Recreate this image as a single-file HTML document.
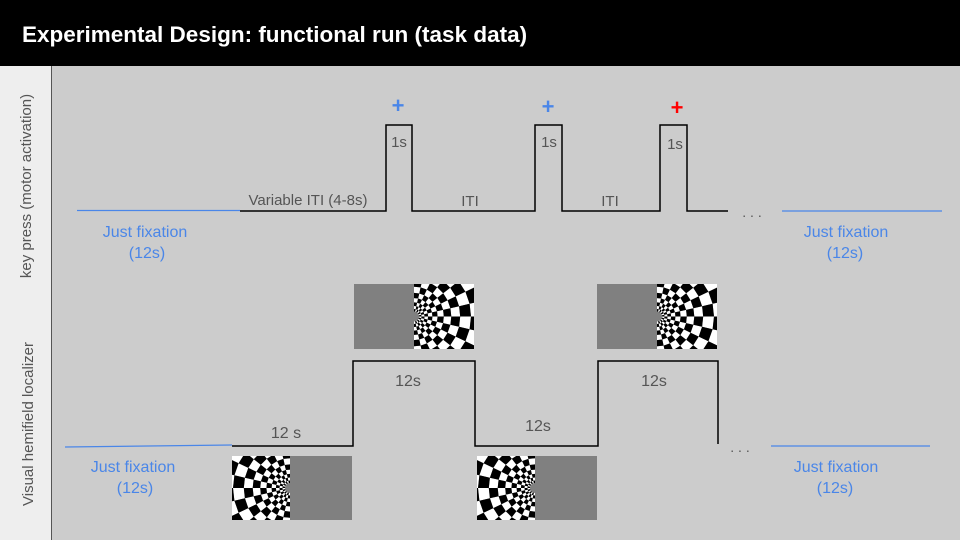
<!DOCTYPE html>
<html style="overflow:hidden;width:960px;height:540px"><head><meta charset="utf-8"><style>
html,body{margin:0;padding:0}
body{width:960px;height:540px;overflow:hidden;background:#ccc;font-family:"Liberation Sans",sans-serif}
</style></head><body>
<svg width="960" height="540" xmlns="http://www.w3.org/2000/svg" style="display:block;position:absolute;left:0;top:0">
<defs>
<clipPath id="c1"><rect x="354" y="284" width="120" height="65"/></clipPath>
<clipPath id="c2"><rect x="597" y="284" width="120" height="65"/></clipPath>
<clipPath id="c3"><rect x="232" y="456" width="120" height="64"/></clipPath>
<clipPath id="c4"><rect x="477" y="456" width="120" height="64"/></clipPath>
</defs>
<rect x="0" y="0" width="960" height="540" fill="#cccccc"/>
<rect x="0" y="0" width="960" height="66" fill="#000"/>
<text x="22" y="42" font-size="22.5" font-weight="bold" fill="#fff" font-family="Liberation Sans, sans-serif">Experimental Design: functional run (task data)</text>
<rect x="0" y="66" width="51" height="474" fill="#eeeeee"/>
<line x1="51.5" y1="66" x2="51.5" y2="540" stroke="#555" stroke-width="1"/>
<text transform="translate(31,186) rotate(-90)" text-anchor="middle" font-size="15" fill="#555">key press (motor activation)</text>
<text transform="translate(33,424) rotate(-90)" text-anchor="middle" font-size="15" fill="#555">Visual hemifield localizer</text>

<g fill="none">
<line x1="77" y1="210.5" x2="240" y2="210.5" stroke="#4a86e8" stroke-width="1.3"/>
<polyline points="240,211 386,211 386,125 412,125 412,211 535,211 535,125 562,125 562,211 660,211 660,125 687,125 687,211 728,211" stroke="#000" stroke-width="1.5"/>
<line x1="782" y1="211" x2="942" y2="211" stroke="#4a86e8" stroke-width="1.3"/>
</g>
<text x="752" y="217" font-size="14" fill="#555" text-anchor="middle">. . .</text>
<g font-size="15" fill="#555" text-anchor="middle">
<text x="308" y="205">Variable ITI (4-8s)</text>
<text x="470" y="206">ITI</text>
<text x="610" y="206">ITI</text>
<text x="399" y="147">1s</text>
<text x="549" y="147">1s</text>
<text x="675" y="149">1s</text>
</g>
<g font-size="22" font-weight="bold" text-anchor="middle">
<text x="398" y="113" fill="#4a86e8">+</text>
<text x="548" y="114" fill="#4a86e8">+</text>
<text x="677" y="115" fill="#ff0000">+</text>
</g>
<g font-size="16" fill="#4a86e8" text-anchor="middle">
<text x="145" y="237">Just fixation</text>
<text x="147" y="258">(12s)</text>
<text x="846" y="237">Just fixation</text>
<text x="845" y="258">(12s)</text>
<text x="133" y="472">Just fixation</text>
<text x="135" y="493">(12s)</text>
<text x="836" y="472">Just fixation</text>
<text x="835" y="493">(12s)</text>
</g>

<g fill="none">
<line x1="65" y1="447" x2="232" y2="445" stroke="#4a86e8" stroke-width="1.3"/>
<polyline points="232,446 353,446 353,361 475,361 475,446 598,446 598,361 718,361 718,444" stroke="#000" stroke-width="1.5"/>
<line x1="771" y1="446" x2="930" y2="446" stroke="#4a86e8" stroke-width="1.3"/>
</g>
<text x="740" y="452" font-size="14" fill="#555" text-anchor="middle">. . .</text>
<g font-size="16" fill="#555" text-anchor="middle">
<text x="286" y="438">12 s</text>
<text x="408" y="386">12s</text>
<text x="538" y="431">12s</text>
<text x="654" y="386">12s</text>
</g>
<g id="stims"></g>
</svg>
<script>
var stims=[
 {x:354,y:284,w:120,h:65,cx:414,side:1,clip:'c1',name:'stimulus-right-hemifield-1'},
 {x:597,y:284,w:120,h:65,cx:657,side:1,clip:'c2',name:'stimulus-right-hemifield-2'},
 {x:232,y:456,w:120,h:64,cx:290,side:-1,clip:'c3',name:'stimulus-left-hemifield-1'},
 {x:477,y:456,w:120,h:64,cx:535,side:-1,clip:'c4',name:'stimulus-left-hemifield-2'}
];
var NS='http://www.w3.org/2000/svg';
var root=document.getElementById('stims');
stims.forEach(function(s){
 var g=document.createElementNS(NS,'g');
 
 
 g.setAttribute('clip-path','url(#'+s.clip+')');
 var r=document.createElementNS(NS,'rect');
 r.setAttribute('x',s.x);r.setAttribute('y',s.y);r.setAttribute('width',s.w);r.setAttribute('height',s.h);r.setAttribute('fill','#808080');
 g.appendChild(r);
 var cy=s.y+s.h/2, cx=s.cx;
 var nA=14, radii=[5];
 while(radii[radii.length-1]<120){radii.push(radii[radii.length-1]*1.2+1.5);}
 var d0='',d1='';
 for(var i=0;i<radii.length-1;i++){
  for(var j=0;j<nA;j++){
   var a0=-Math.PI/2+Math.PI*j/nA, a1=-Math.PI/2+Math.PI*(j+1)/nA;
   var r0=radii[i], r1=radii[i+1];
   var p=function(rr,aa){return (cx+s.side*rr*Math.cos(aa)).toFixed(1)+','+(cy+rr*Math.sin(aa)).toFixed(1);};
   var seg='M'+p(r0,a0)+'L'+p(r1,a0)+'L'+p(r1,a1)+'L'+p(r0,a1)+'Z';
   if((i+j)%2) d0+=seg; else d1+=seg;
  }
 }
 var pw=document.createElementNS(NS,'path');pw.setAttribute('d',d0);pw.setAttribute('fill','#fff');g.appendChild(pw);
 var pb=document.createElementNS(NS,'path');pb.setAttribute('d',d1);pb.setAttribute('fill','#000');g.appendChild(pb);
 root.appendChild(g);
});
</script>
</body></html>
